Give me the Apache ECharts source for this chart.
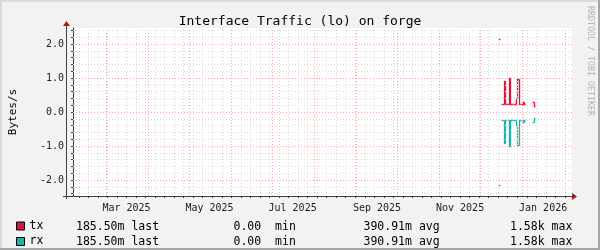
<!DOCTYPE html>
<html><head><meta charset="utf-8">
<script src="https://cdn.jsdelivr.net/npm/echarts@6/dist/echarts.min.js"></script>
<style>html,body{margin:0;padding:0;background:#f2f2f2}#c{width:600px;height:250px}</style>
</head><body><div id="c"></div>
<script>
// ---- data (daily averages, Bytes/s) ----
const days = ['2025-12-14','2025-12-15','2025-12-16','2025-12-17','2025-12-18','2025-12-19','2025-12-20',
  '2025-12-21','2025-12-22','2025-12-23','2025-12-24','2025-12-25','2025-12-26','2025-12-27','2025-12-28',
  '2025-12-29','2025-12-30','2025-12-31','2026-01-01','2026-01-02','2026-01-03','2026-01-04','2026-01-05',
  '2026-01-06','2026-01-07','2026-01-08','2026-01-09'];
const tx = [2.16, null, 0.246, 0.246, 0.90, 0.24, 0.23, 0.24, 0.99, 0.24, 0.24, 0.24, 0.24, 0.385, 0.96,
  0.24, 0.24, 0.24, 0.28, 0.24, null, null, null, null, null, 0.28, 0.1855];
const rx = [2.16, null, 0.246, 0.246, 0.91, 0.24, 0.23, 0.24, 1.00, 0.24, 0.24, 0.24, 0.24, 0.385, 0.97,
  0.24, 0.24, 0.24, 0.28, 0.24, null, null, null, null, null, 0.28, 0.1855];
const seriesNames = ['tx', 'rx'];
const txStats = ['185.50m last', '0.00  min', '390.91m avg', '1.58k max'];
const rxStats = ['185.50m last', '0.00  min', '390.91m avg', '1.58k max'];
// ---- axes ----
const yTicks = [-2, -1, 0, 1, 2];
const yTickLabels = ['-2.0', '-1.0', '0.0', '1.0', '2.0'];
const xLabelMonths = ['2025-03-16','2025-05-16','2025-07-16','2025-09-16','2025-11-16','2026-01-16'];
const xTickLabels = ['Mar 2025','May 2025','Jul 2025','Sep 2025','Nov 2025','Jan 2026'];
const monthStarts = ['2025-03-01','2025-04-01','2025-05-01','2025-06-01','2025-07-01','2025-08-01',
  '2025-09-01','2025-10-01','2025-11-01','2025-12-01','2026-01-01','2026-02-01'];
const firstWeek = '2025-02-09';
const xStart = '2025-02-04T17:00:00Z', xEnd = '2026-02-06T05:00:00Z';
const yMin = -2.47, yMax = 2.47;
const title = 'Interface Traffic (lo) on forge';
const yName = 'Bytes/s';
const sideNote = 'RRDTOOL / TOBI OETIKER';

// ---- helpers ----
const DAY = 86400000;
const ts = s => { const [y, m, d] = s.split('-').map(Number); return Date.UTC(y, m - 1, d); };
const xMin = Date.parse(xStart), xMax = Date.parse(xEnd);
const MONO = 'DejaVu Sans Mono';
const COLORS = ['#dc143c', '#20b2aa'];
const labelTs = xLabelMonths.map(ts);

function buildData(vals, sign) {
  return days.map((d, i) => {
    const v = vals[i], p = i > 0 ? vals[i - 1] : null;
    return [ts(d), v == null ? NaN : sign * v, p == null ? NaN : sign * p];
  });
}
function renderStep(params, api) {
  const t0 = api.value(0), v = api.value(1), prev = api.value(2);
  if (isNaN(v)) return null;
  const snap = p => [Math.round(p[0]) + 0.5, Math.round(p[1]) + 0.5];
  const pts = [];
  if (!isNaN(prev)) pts.push(snap(api.coord([t0, prev])));
  pts.push(snap(api.coord([t0, v])), snap(api.coord([t0 + DAY, v])));
  return { type: 'polyline', shape: { points: pts },
    style: { stroke: api.visual('color'), lineWidth: 1.3, fill: null, lineJoin: 'miter' } };
}

// grid lines
const weekLines = [];
for (let t = ts(firstWeek); t < xMax; t += 7 * DAY) weekLines.push({ xAxis: t });
const monthLines = monthStarts.map(s => ({ xAxis: ts(s) }));
const yMinor = [];
for (let k = -12; k <= 12; k++) if (k % 5 !== 0) yMinor.push({ yAxis: k * 0.2 });
const yMajor = yTicks.map(v => ({ yAxis: v }));

const chart = echarts.init(document.getElementById('c'), null, { renderer: 'canvas' });
const G = { left: 67, top: 28, right: 28, bottom: 54 };
const AXIS = '#404040';
const option = {
  animation: false,
  backgroundColor: '#f2f2f2',
  title: { text: title, left: 'center', top: 15, padding: 0,
    textStyle: { fontFamily: MONO, fontSize: 13, fontWeight: 'normal', color: '#000' } },
  grid: { left: G.left, top: G.top, right: G.right, bottom: G.bottom, show: true,
    backgroundColor: '#ffffff', borderWidth: 0 },
  legend: [
    { data: [seriesNames[0]], left: 16, top: 220, padding: 0, icon: 'rect', itemWidth: 8, itemHeight: 8,
      selectedMode: false, itemStyle: { borderColor: '#000', borderWidth: 1 },
      textStyle: { fontFamily: MONO, fontSize: 11.5, color: '#000' } },
    { data: [seriesNames[1]], left: 16, top: 235.5, padding: 0, icon: 'rect', itemWidth: 8, itemHeight: 8,
      selectedMode: false, itemStyle: { borderColor: '#000', borderWidth: 1 },
      textStyle: { fontFamily: MONO, fontSize: 11.5, color: '#000' } }
  ],
  xAxis: {
    type: 'value', min: xMin, max: xMax,
    axisLine: { show: true, onZero: false, lineStyle: { color: AXIS, width: 1 } },
    axisTick: { show: true, length: 2, customValues: weekLines.map(o => o.xAxis),
      lineStyle: { color: AXIS } },
    axisLabel: { customValues: labelTs, margin: 7, hideOverlap: false,
      fontFamily: MONO, fontSize: 10, color: '#222',
      formatter: v => { const i = labelTs.indexOf(v); return i >= 0 ? xTickLabels[i] : ''; } },
    splitLine: { show: false }
  },
  yAxis: {
    type: 'value', min: yMin, max: yMax,
    name: yName, nameLocation: 'middle', nameRotate: 90, nameGap: 54,
    nameTextStyle: { fontFamily: MONO, fontSize: 11, color: '#000' },
    axisLine: { show: true, onZero: false, lineStyle: { color: AXIS, width: 1 } },
    axisTick: { show: true, length: 2, customValues: yMinor.map(o => o.yAxis).concat(yTicks),
      lineStyle: { color: AXIS } },
    axisLabel: { customValues: yTicks, margin: 9, fontFamily: MONO, fontSize: 10, color: '#222',
      formatter: v => { const i = yTicks.indexOf(Math.round(v)); return i >= 0 ? yTickLabels[i] : ''; } },
    splitLine: { show: false }
  },
  series: [
    { type: 'line', name: '_grid', data: [], z: 1, silent: true,
      markLine: { silent: true, symbol: ['none', 'none'], label: { show: false }, animation: false,
        lineStyle: { color: '#dadada', width: 1, type: [1, 2] },
        data: weekLines.concat(yMinor) } },
    { type: 'line', name: '_grid2', data: [], z: 1, silent: true,
      markLine: { silent: true, symbol: ['none', 'none'], label: { show: false }, animation: false,
        lineStyle: { color: '#f4a6a6', width: 1, type: [1, 2] },
        data: monthLines.concat(yMajor) } },
    { type: 'custom', name: seriesNames[0], renderItem: renderStep, data: buildData(tx, 1),
      encode: { x: 0, y: 1 }, itemStyle: { color: COLORS[0] }, z: 3 },
    { type: 'custom', name: seriesNames[1], renderItem: renderStep, data: buildData(rx, -1),
      encode: { x: 0, y: 1 }, itemStyle: { color: COLORS[1] }, z: 3 }
  ]
};
chart.setOption(option);

// decorations: frame, axis line overlay with arrows, legend stats, side note
const x0 = G.left, yb = 250 - G.bottom, xr = 600 - G.right;
const statX = [76, 233.5, 363.5, 510];
const graphics = [
  { type: 'rect', shape: { x: 0, y: 0, width: 600, height: 2 }, style: { fill: '#dcdcdc' } },
  { type: 'rect', shape: { x: 0, y: 0, width: 2, height: 250 }, style: { fill: '#dcdcdc' } },
  { type: 'rect', shape: { x: 598, y: 0, width: 2, height: 250 }, style: { fill: '#a6a6a6' } },
  { type: 'rect', shape: { x: 0, y: 248, width: 600, height: 2 }, style: { fill: '#a6a6a6' } },
  { type: 'rect', z: 100, shape: { x: x0 - 1, y: G.top - 3, width: 1, height: yb - G.top + 6 }, style: { fill: AXIS } },
  { type: 'rect', z: 100, shape: { x: x0 - 4, y: yb, width: xr - x0 + 4, height: 1 }, style: { fill: AXIS } },
  { type: 'polygon', z: 100, shape: { points: [[x0 - 4, G.top - 2], [x0 + 3, G.top - 2], [x0 - 0.5, G.top - 7]] }, style: { fill: '#a01c1c' } },
  { type: 'polygon', z: 100, shape: { points: [[xr, yb - 3], [xr, yb + 4], [xr + 5, yb + 0.5]] }, style: { fill: '#a01c1c' } },
  { type: 'text', x: 590, y: 6, rotation: -Math.PI / 2,
    style: { text: sideNote, fontFamily: MONO, fontSize: 8.3, fill: '#b4b4b4', align: 'left', verticalAlign: 'middle' } }
];
[txStats, rxStats].forEach((row, r) => row.forEach((s, i) => graphics.push({
  type: 'text', x: statX[i], y: r === 0 ? 227.5 : 242.5,
  style: { text: s, fontFamily: MONO, fontSize: 11.5, fill: '#000', align: 'left', verticalAlign: 'middle' } })));
chart.setOption({ graphic: graphics });
</script></body></html>
